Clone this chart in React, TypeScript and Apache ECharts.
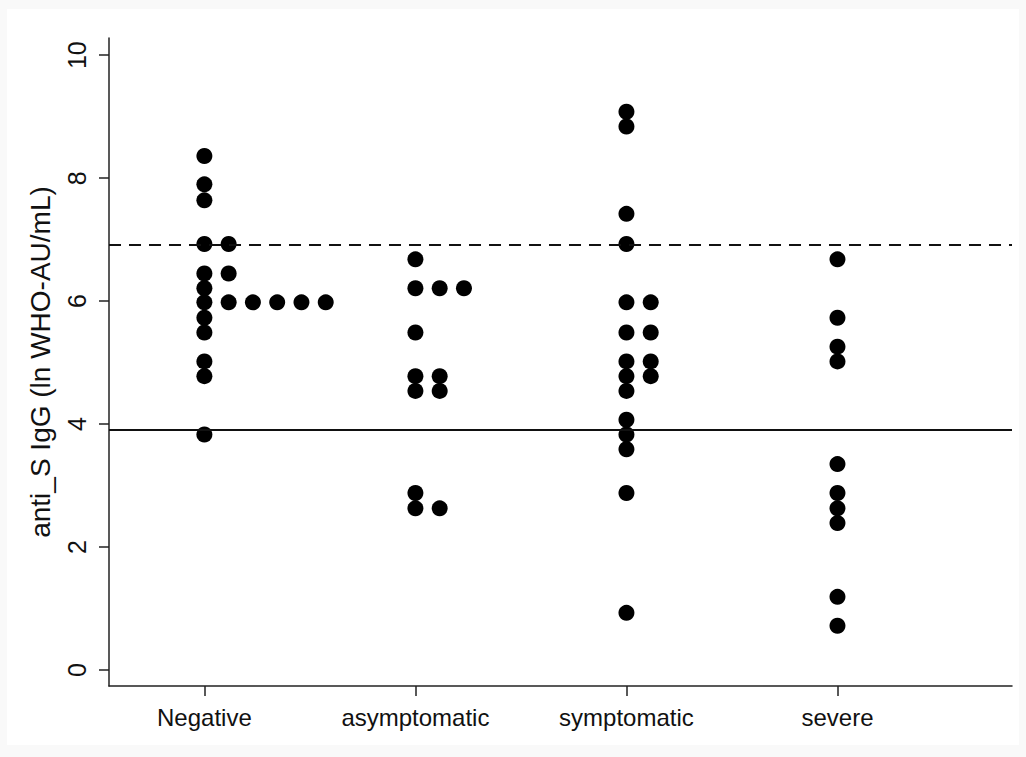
import React, { useEffect, useRef } from "react";
import * as echarts from "echarts";

const CATEGORIES = ["Negative", "asymptomatic", "symptomatic", "severe"];

const NEGATIVE = [8.36, 7.9, 7.64, 6.93, 6.93, 6.45, 6.45, 6.21, 5.98, 5.98, 5.98, 5.98, 5.98, 5.98, 5.73, 5.49, 5.02, 4.78, 3.83];
const ASYMPTOMATIC = [6.68, 6.21, 6.21, 6.21, 5.49, 4.78, 4.78, 4.54, 4.54, 2.88, 2.63, 2.63];
const SYMPTOMATIC = [9.08, 8.84, 7.42, 6.93, 5.98, 5.98, 5.49, 5.49, 5.02, 5.02, 4.78, 4.78, 4.54, 4.07, 3.83, 3.59, 2.88, 0.93];
const SEVERE = [6.68, 5.73, 5.26, 5.02, 3.35, 2.88, 2.63, 2.39, 1.19, 0.72];

const GROUPS = [NEGATIVE, ASYMPTOMATIC, SYMPTOMATIC, SEVERE];
const Y_TICKS = [0, 2, 4, 6, 8, 10];
const X_TICKS = [1, 2, 3, 4];
const UPPER_CUTOFF = 6.91;
const LOWER_CUTOFF = 3.91;
const Y_TITLE = "anti_S IgG (ln WHO-AU/mL)";

const COL_STEP = 0.115;
const FONT = "'Liberation Sans', Arial, sans-serif";

function buildPoints(): number[][] {
  const pts: number[][] = [];
  GROUPS.forEach((vals, gi) => {
    const counts: Record<string, number> = {};
    vals.forEach((v) => {
      const k = v.toFixed(2);
      const c = counts[k] || 0;
      counts[k] = c + 1;
      pts.push([gi + 1 + c * COL_STEP, v]);
    });
  });
  return pts;
}

export default function App() {
  const ref = useRef<HTMLDivElement>(null);
  useEffect(() => {
    if (!ref.current) return;
    const chart = echarts.init(ref.current, null, { renderer: "svg" });
    const axisColor = "#222";
    chart.setOption({
      animation: false,
      backgroundColor: "#f9f9f9",
      graphic: [
        {
          type: "rect",
          z: -10,
          silent: true,
          shape: { x: 7, y: 9, width: 1012, height: 736 },
          style: { fill: "#ffffff" },
        },
      ],
      grid: { left: 109, right: 14, top: 38, bottom: 71, containLabel: false, outerBoundsMode: "none" },
      xAxis: {
        type: "value",
        min: 0.548,
        max: 4.827,
        splitLine: { show: false },
        axisLine: { show: true, onZero: false, lineStyle: { color: axisColor, width: 1.5 } },
        axisTick: { show: true, inside: false, length: 10, customValues: X_TICKS, lineStyle: { color: axisColor, width: 1.5 } },
        axisLabel: {
          customValues: X_TICKS,
          formatter: (v: number) => CATEGORIES[Math.round(v) - 1] || "",
          color: "#111",
          fontSize: 24,
          fontFamily: FONT,
          margin: 19,
        },
      },
      yAxis: {
        type: "value",
        min: -0.26,
        max: 10.28,
        name: Y_TITLE,
        nameLocation: "middle",
        nameGap: 55,
        nameTextStyle: { fontSize: 28, color: "#111", fontFamily: FONT },
        splitLine: { show: false },
        axisLine: { show: true, onZero: false, lineStyle: { color: axisColor, width: 1.5 } },
        axisTick: { show: true, inside: false, length: 10, customValues: Y_TICKS, lineStyle: { color: axisColor, width: 1.5 } },
        axisLabel: {
          customValues: Y_TICKS,
          rotate: 90,
          color: "#111",
          fontSize: 25,
          fontFamily: FONT,
          margin: 20,
        },
      },
      series: [
        {
          type: "scatter",
          data: buildPoints(),
          symbol: "circle",
          symbolSize: 16,
          itemStyle: { color: "#000", opacity: 1 },
          markLine: {
            silent: true,
            symbol: "none",
            label: { show: false },
            data: [
              { yAxis: UPPER_CUTOFF, lineStyle: { type: [12, 8], color: "#111", width: 2 } },
              { yAxis: LOWER_CUTOFF, lineStyle: { type: "solid", color: "#111", width: 2 } },
            ],
          },
        },
      ],
    });
    return () => chart.dispose();
  }, []);
  return <div ref={ref} style={{ position: "fixed", left: 0, top: 0, width: 1026, height: 757 }} />;
}
